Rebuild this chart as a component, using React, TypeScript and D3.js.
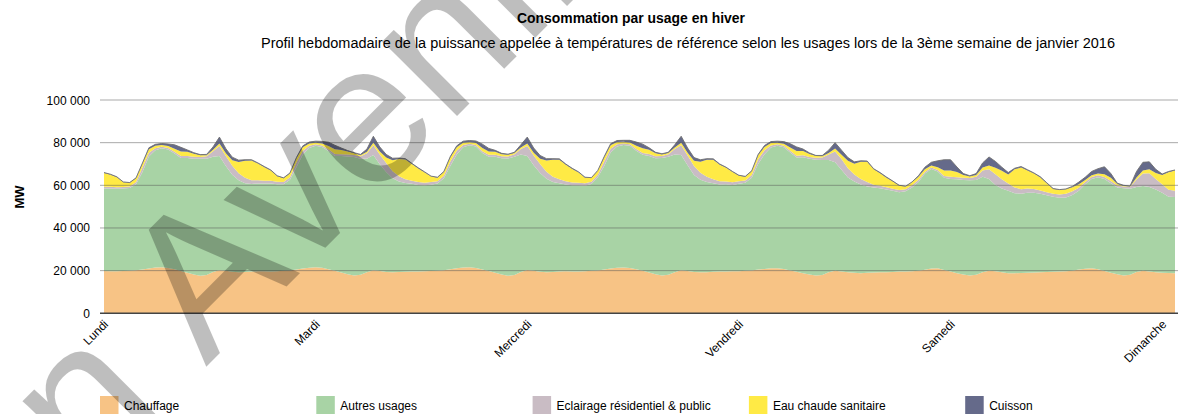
import React from "react";
import * as d3 from "d3";

// ---- data (MW, hourly, Monday 0h .. Sunday 23h) ----
const dayNames = ["Lundi", "Mardi", "Mercredi", "Jeudi", "Vendredi", "Samedi", "Dimanche"];
const labelIndices = [0, 33, 66, 99, 132, 165];
const yTicks = [0, 20000, 40000, 60000, 80000, 100000];
const seriesNames = ["Chauffage", "Autres usages", "Eclairage résidentiel & public", "Eau chaude sanitaire", "Cuisson"];
const seriesColors = ["#f7c385", "#a8d3a5", "#c9bcc4", "#ffea45", "#656a8a"];

const chauffage = [
  19800, 19700, 19700, 19800, 20000, 20200, 20500, 21000, 21500, 21600, 21200, 20600, 19800, 19000, 18200, 17600, 18000, 19400, 20200, 19900, 19500, 19300, 19400, 19600,
  19700, 19700, 19600, 19700, 19900, 20100, 20500, 21000, 21400, 21600, 21300, 20700, 19900, 19100, 18300, 17700, 18100, 19300, 20200, 19800, 19400, 19300, 19400, 19500,
  19600, 19600, 19700, 19800, 19900, 20200, 20600, 21100, 21500, 21600, 21200, 20500, 19800, 19000, 18200, 17600, 18000, 19400, 20300, 19900, 19500, 19300, 19400, 19600,
  19700, 19600, 19600, 19700, 19900, 20100, 20500, 21000, 21400, 21500, 21200, 20600, 19900, 19100, 18300, 17700, 18100, 19300, 20200, 19800, 19400, 19200, 19300, 19500,
  19600, 19600, 19700, 19700, 19900, 20100, 20500, 20800, 21100, 21100, 20800, 20100, 19500, 18800, 18200, 17700, 18000, 19300, 20000, 19600, 19300, 19000, 18800, 19000,
  19100, 19200, 19300, 19400, 19600, 19600, 19700, 19900, 20400, 21000, 21100, 20300, 19600, 18800, 18200, 17700, 18100, 19300, 20000, 19700, 19200, 18800, 18800, 18900,
  19000, 19100, 19200, 19400, 19500, 19600, 19700, 19900, 20500, 20900, 21100, 20600, 19800, 19000, 18300, 17700, 18100, 19400, 20000, 19600, 19300, 19000, 18900, 18800,
];

const autresUsages = [
  38700, 38800, 38700, 38700, 38700, 40300, 45800, 52500, 54900, 55800, 55600, 54300, 53000, 53800, 54300, 54800, 54400, 54000, 53600, 49200, 45500, 43100, 41600, 41000,
  41200, 41100, 41300, 40800, 40600, 42500, 48000, 53400, 56100, 56900, 56700, 55400, 53900, 54600, 55200, 55600, 54300, 53100, 54000, 50100, 46900, 44000, 42400, 41600,
  41100, 40600, 40300, 40500, 40900, 43100, 48400, 53300, 56400, 57200, 57000, 54700, 53600, 54400, 54500, 55000, 55400, 55000, 53500, 49500, 46300, 43800, 42100, 41400,
  40700, 40400, 40400, 40100, 40700, 43700, 48500, 54400, 56800, 57400, 57300, 55600, 54400, 54700, 54400, 55100, 55300, 55100, 54000, 49600, 45400, 43400, 42200, 41500,
  40800, 40900, 40500, 41000, 41300, 43500, 49500, 53800, 56600, 57400, 57100, 55300, 53500, 54400, 54200, 54300, 53900, 52600, 50800, 47700, 44400, 42800, 41600, 40500,
  39900, 39400, 38700, 38000, 37200, 37600, 39300, 41600, 45100, 46600, 45400, 43200, 43400, 44000, 44300, 44700, 44400, 44700, 43000, 40500, 39300, 38700, 37500, 37100,
  37500, 37400, 36800, 35900, 35200, 34600, 34600, 35600, 37000, 39600, 41900, 43200, 43200, 42000, 40700, 40900, 40300, 39800, 39700, 39600, 38700, 37500, 35700, 35700,
];

const eclairage = [
  800, 800, 700, 700, 700, 1000, 2000, 1800, 1000, 700, 700, 800, 900, 900, 900, 900, 1200, 2600, 4600, 4600, 4200, 3300, 2500, 1800,
  1500, 1300, 1200, 1200, 1100, 1200, 2200, 1800, 1000, 700, 700, 800, 900, 900, 900, 900, 1200, 2600, 4600, 4600, 4200, 3300, 2500, 1800,
  1500, 1300, 1200, 1200, 1100, 1200, 2200, 1800, 1000, 700, 700, 800, 900, 900, 900, 900, 1200, 2600, 4600, 4600, 4200, 3300, 2500, 1800,
  1500, 1300, 1200, 1200, 1100, 1200, 2200, 1800, 1000, 700, 700, 800, 900, 900, 900, 900, 1200, 2600, 4600, 4600, 4200, 3300, 2500, 1800,
  1500, 1300, 1200, 1200, 1100, 1200, 2200, 1800, 1000, 700, 700, 800, 900, 900, 900, 900, 1200, 2600, 5000, 5000, 4300, 3300, 2600, 2000,
  1300, 1200, 1100, 1000, 1000, 900, 1000, 1100, 800, 700, 700, 900, 1000, 1000, 1000, 1000, 1500, 3000, 4500, 5000, 4300, 3300, 2700, 2200,
  2000, 1800, 1600, 1500, 1400, 1500, 1700, 1700, 1400, 1000, 900, 900, 900, 1000, 900, 800, 800, 3500, 5800, 6500, 5000, 4000, 3300, 3000,
];

const eauChaude = [
  6500, 5700, 4700, 2200, 1700, 1800, 1800, 1600, 1100, 800, 900, 1500, 2200, 2000, 1400, 800, 500, 700, 1200, 1300, 2500, 5200, 8000, 9200,
  7800, 6400, 4800, 2600, 1700, 1800, 1900, 1600, 1100, 800, 900, 1500, 2200, 2000, 1400, 800, 500, 700, 1200, 1300, 2500, 5200, 8000, 9200,
  7800, 6400, 4800, 2600, 1700, 1800, 1900, 1600, 1100, 800, 900, 1500, 1500, 1400, 1000, 800, 500, 700, 1200, 1300, 2500, 5200, 8000, 9200,
  7800, 6400, 4800, 2600, 1700, 1800, 1900, 1600, 1100, 800, 900, 1500, 2200, 2000, 1400, 800, 500, 700, 1200, 1300, 2500, 5200, 8000, 9200,
  7800, 6400, 4800, 2600, 1700, 1800, 1900, 1600, 1100, 800, 900, 1500, 2200, 2000, 1400, 800, 500, 700, 1500, 2000, 3500, 5000, 8000, 9500,
  7200, 5900, 4500, 3400, 2000, 1300, 1400, 1400, 1200, 1000, 1300, 2600, 3000, 2500, 1300, 700, 800, 1300, 1800, 3000, 4000, 4300, 8500, 10200,
  8500, 7200, 6100, 4200, 2200, 2100, 2100, 1900, 1600, 1000, 800, 800, 1300, 1500, 700, 300, 200, 1000, 1500, 1800, 2800, 4300, 8200, 9400,
];

const cuisson = [
  200, 200, 200, 200, 200, 200, 400, 700, 700, 700, 1000, 1800, 1900, 900, 500, 300, 400, 1300, 3000, 2200, 1500, 900, 500, 400,
  300, 300, 300, 200, 200, 200, 400, 700, 700, 700, 1000, 1800, 1900, 900, 500, 300, 400, 1300, 3000, 2200, 1500, 900, 500, 400,
  300, 300, 300, 200, 200, 200, 400, 700, 700, 700, 1000, 1800, 1500, 700, 400, 300, 400, 1300, 3000, 2200, 1500, 900, 500, 400,
  300, 300, 300, 200, 200, 200, 400, 700, 700, 700, 1000, 1800, 1900, 900, 500, 300, 400, 1300, 3000, 2200, 1500, 900, 500, 400,
  300, 300, 300, 200, 200, 200, 400, 700, 700, 700, 1000, 1800, 1900, 900, 500, 300, 400, 1300, 2700, 2200, 1500, 900, 500, 400,
  300, 300, 300, 200, 200, 200, 200, 500, 1000, 1500, 3000, 5000, 5000, 2300, 700, 400, 700, 2200, 4000, 3000, 1700, 900, 500, 400,
  300, 300, 300, 200, 200, 200, 200, 400, 1000, 1300, 1800, 2300, 3500, 2000, 400, 300, 300, 2800, 3800, 3500, 1700, 500, 400, 300,
];

const seriesValues = [chauffage, autresUsages, eclairage, eauChaude, cuisson];

const FONT = "'Liberation Sans', Arial, Helvetica, sans-serif";

export default function App() {
  const W = 1181;
  const H = 414;
  const n = chauffage.length;
  const x = d3.scaleLinear().domain([0, n - 1]).range([104, 1175]);
  const y = d3.scaleLinear().domain([0, 100000]).range([313.3, 100]);

  const keys = seriesNames.map((_, k) => "s" + k);
  const rows = chauffage.map((_, i) => {
    const r: any = { i };
    keys.forEach((key, k) => (r[key] = seriesValues[k][i]));
    return r;
  });
  const stacked = d3.stack<any>().keys(keys)(rows);
  const area = d3
    .area<any>()
    .x((d) => x(d.data.i))
    .y0((d) => y(d[0]))
    .y1((d) => y(d[1]));
  const topLine = d3
    .line<any>()
    .x((d) => x(d.data.i))
    .y((d) => y(d[1]));

  const fmt = (v: number) => d3.format(",")(v).replace(/,/g, " ");

  return (
    <svg
      width={W}
      height={H}
      style={{ position: "absolute", left: 0, top: 0, background: "#fff" }}
      fontFamily={FONT}
    >
      <rect x={0} y={0} width={W} height={H} fill="#fff" />
      <text x={631} y={23} textAnchor="middle" fontSize={14.5} fontWeight="bold" fill="#000"
        textLength={228} lengthAdjust="spacingAndGlyphs">
        Consommation par usage en hiver
      </text>
      <text x={688} y={48} textAnchor="middle" fontSize={14} fill="#000"
        textLength={854} lengthAdjust="spacingAndGlyphs">
        Profil hebdomadaire de la puissance appelée à températures de référence selon les usages lors de la 3ème semaine de janvier 2016
      </text>

      {stacked.map((s, k) => (
        <path key={k} d={area(s) || ""} fill={seriesColors[k]} stroke="none" />
      ))}
      <path d={topLine(stacked[stacked.length - 1]) || ""} fill="none" stroke="#6f6f6f" strokeWidth={0.9} />

      {yTicks.map((t) => (
        <g key={t}>
          {t > 0 && (
            <line x1={100} x2={1178} y1={y(t)} y2={y(t)} stroke="#555" strokeOpacity={0.5} strokeWidth={1} />
          )}
          <text x={90} y={y(t) + 4.5} textAnchor="end" fontSize={12} fill="#000">
            {fmt(t)}
          </text>
        </g>
      ))}
      <line x1={100} x2={1178} y1={y(0)} y2={y(0)} stroke="#444" strokeWidth={1.5} />

      <text transform="translate(24,197) rotate(-90)" textAnchor="middle" fontSize={13} fontWeight="bold" fill="#000">
        MW
      </text>

      {labelIndices.map((i) => (
        <text
          key={i}
          transform={`translate(${x(i) + 5},${325}) rotate(-45)`}
          textAnchor="end"
          fontSize={12}
          fill="#000"
        >
          {dayNames[Math.floor(i / 24)]}
        </text>
      ))}

      {seriesNames.map((name, k) => (
        <g key={name} transform={`translate(${100 + k * 216.3},396)`}>
          <rect x={0} y={0} width={18.5} height={19} fill={seriesColors[k]} />
          <text x={24} y={14} fontSize={12} fill="#000">
            {name}
          </text>
        </g>
      ))}

      <g transform="translate(206,367) rotate(-45)" fill="#000" opacity={0.25} fontSize={200} fontFamily={FONT}>
        <text x={-56} y={0} textAnchor="end">Version</text>
        <text x={0} y={0}>Avenir</text>
      </g>
    </svg>
  );
}
